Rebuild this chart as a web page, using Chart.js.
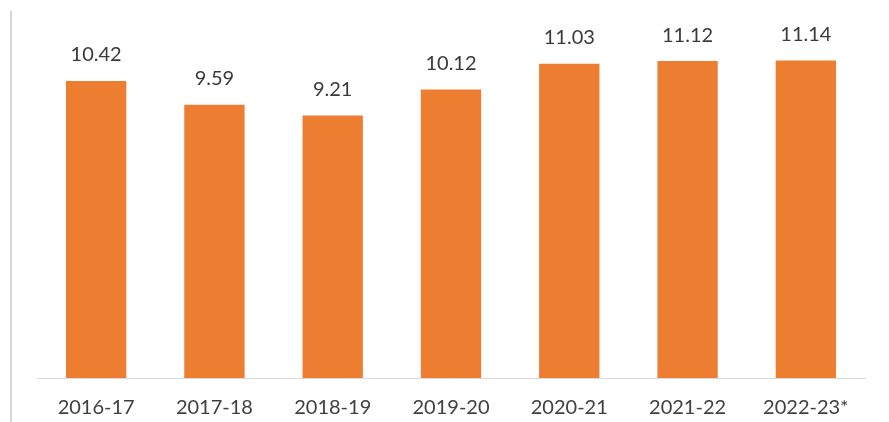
<!DOCTYPE html>
<html>
<head>
<meta charset="utf-8">
<script src="https://cdn.jsdelivr.net/npm/chart.js@4.4.0/dist/chart.umd.min.js"></script>
<style>
  html, body { margin: 0; padding: 0; background: #fff; }
  #wrap { position: relative; width: 889px; height: 422px; }
  #edge { position: absolute; left: 10px; top: 11px; width: 2px; height: 411px; background: #d6d6d6; }
</style>
</head>
<body>
<div id="wrap">
  <canvas id="myChart" width="889" height="422"></canvas>
  <div id="edge"></div>
</div>
<script>
"use strict";
// years on the x axis
const years = ["2016-17", "2017-18", "2018-19", "2019-20", "2020-21", "2021-22", "2022-23*"];
// value for each year
const values = [10.42, 9.59, 9.21, 10.12, 11.03, 11.12, 11.14];

// draws the number above every bar
const barLabels = {
  id: "barLabels",
  afterDatasetsDraw(chart) {
    const c = chart.ctx;
    const meta = chart.getDatasetMeta(0);
    c.save();
    c.font = "20px Lato";
    c.fillStyle = "#3a3a3a";
    c.textAlign = "center";
    c.textBaseline = "middle";
    meta.data.forEach((bar, i) => {
      c.fillText(values[i].toFixed(2), bar.x, bar.y - 26);
    });
    c.restore();
  },
};

const ctx = document.getElementById("myChart");
new Chart(ctx, {
  type: "bar",
  data: {
    labels: years,
    datasets: [
      {
        data: values,
        backgroundColor: "#ED7D31",
        categoryPercentage: 1,
        barPercentage: 0.51,
      },
    ],
  },
  options: {
    responsive: false,
    animation: false,
    layout: { padding: { left: 37, right: 24, top: 36, bottom: 6 } },
    plugins: { legend: { display: false }, tooltip: { enabled: false } },
    scales: {
      x: {
        grid: { display: false, drawTicks: false },
        border: { display: true, color: "#d9d9d9", width: 1 },
        ticks: { color: "#404040", font: { family: "Lato", size: 20 }, padding: 18, maxRotation: 0 },
        afterFit: (scale) => {
          scale.height = 38;
        },
      },
      y: {
        display: false,
        min: 0,
        max: 12,
      },
    },
  },
  plugins: [barLabels],
});
</script>
</body>
</html>
